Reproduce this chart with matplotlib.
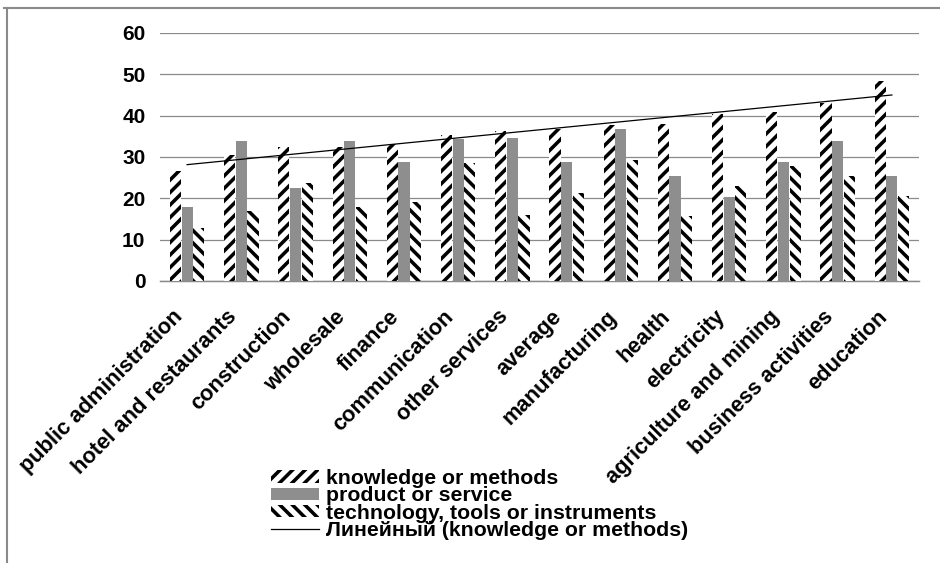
import numpy as np
import matplotlib
matplotlib.use("Agg")
import matplotlib.pyplot as plt
from matplotlib.lines import Line2D
from matplotlib.transforms import ScaledTranslation

categories = ["public administration", "hotel and restaurants", "construction", "wholesale",
              "finance", "communication", "other services", "average", "manufacturing",
              "health", "electricity", "agriculture and mining", "business activities", "education"]
knowledge = [26.5, 30.5, 32.3, 32.5, 33.1, 35.4, 36.3, 36.7, 37.8, 38.0, 40.5, 41.0, 43.0, 48.5]
product = [17.8, 33.8, 22.6, 33.8, 28.9, 34.4, 34.7, 28.9, 36.8, 25.3, 20.4, 28.7, 33.9, 25.5]
technology = [12.9, 17.0, 23.7, 17.9, 19.2, 28.6, 16.0, 21.3, 29.3, 15.7, 23.1, 27.9, 25.5, 20.6]
yticks = [0, 10, 20, 30, 40, 50, 60]
series_names = ["knowledge or methods", "product or service",
                "technology, tools or instruments", "Линейный (knowledge or methods)"]

plt.rcParams['font.family'] = ['Liberation Sans', 'DejaVu Sans']
plt.rcParams['font.weight'] = 'bold'
plt.rcParams['hatch.linewidth'] = 1.7

DPI = 150
fig = plt.figure(figsize=(940 / DPI, 563 / DPI), dpi=DPI)
ax = fig.add_axes([160 / 940, 1 - 281 / 563, 759 / 940, 248 / 563])

x = np.arange(len(categories))
w = 0.205
off = 0.215
b1 = ax.bar(x - off, knowledge, w, facecolor='white', edgecolor='black', hatch='////', linewidth=0,
            label=series_names[0], zorder=3)
b2 = ax.bar(x, product, w, facecolor='#8e8e8e', edgecolor='#8e8e8e', linewidth=0,
            label=series_names[1], zorder=3)
b3 = ax.bar(x + off, technology, w, facecolor='white', edgecolor='black', hatch='\\\\\\\\', linewidth=0,
            label=series_names[2], zorder=3)

coef = np.polyfit(x, knowledge, 1)
xt = np.array([x[0], x[-1]])
tl, = ax.plot(xt, np.polyval(coef, xt), color='black', linewidth=0.6, zorder=4,
              label=series_names[3])

ax.set_xlim(-0.5, len(categories) - 0.5)
ax.set_ylim(0, 60)
ax.set_yticks(yticks)
ax.set_yticklabels([str(v) for v in yticks], fontsize=10, fontweight='bold')
ax.yaxis.grid(True, color='#8a8a8a', linewidth=0.6, zorder=0)
ax.set_axisbelow(True)
for s in ['top', 'right', 'left']:
    ax.spines[s].set_visible(False)
ax.spines['bottom'].set_color('#8a8a8a')
ax.spines['bottom'].set_linewidth(0.7)
ax.tick_params(axis='y', length=0, pad=7)
ax.tick_params(axis='x', length=0, pad=3)
ax.set_xticks(x)
ax.set_xticklabels(categories, rotation=45, ha='right', va='top', rotation_mode='anchor',
                   fontsize=10.5, fontweight='bold')
shift = ScaledTranslation(-15 / DPI, -19 / DPI, fig.dpi_scale_trans)
for lab in ax.get_xticklabels():
    lab.set_transform(lab.get_transform() + shift)

leg = fig.legend(handles=[b1, b2, b3, tl], labels=series_names, loc='upper left',
                 bbox_to_anchor=(271 / 940, 1 - 469 / 563), frameon=False,
                 prop={'size': 10.2, 'weight': 'bold'}, handlelength=2.25, handleheight=0.5,
                 handletextpad=0.35, labelspacing=-0.08, borderpad=0, borderaxespad=0)

fig.add_artist(Line2D([4 / 940, 1], [1 - 8 / 563, 1 - 8 / 563], transform=fig.transFigure,
                      color='#8a8a8a', linewidth=1.0))
fig.add_artist(Line2D([7 / 940, 7 / 940], [0, 1 - 8 / 563], transform=fig.transFigure,
                      color='#8a8a8a', linewidth=1.0))

fig.savefig('out.png', dpi=DPI, facecolor='white')
